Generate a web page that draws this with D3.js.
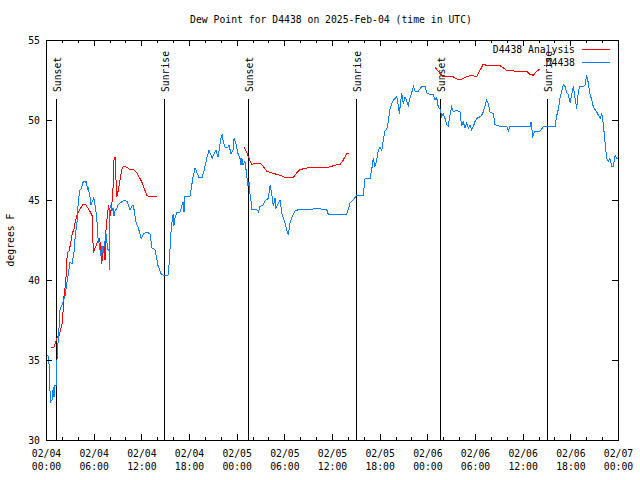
<!DOCTYPE html>
<html>
<head>
<meta charset="utf-8">
<script src="https://cdn.jsdelivr.net/npm/d3@7"></script>
<style>
  html, body { margin: 0; padding: 0; background: #fff; }
  svg { display: block; }
  text { font-family: "DejaVu Sans Mono", "Liberation Mono", monospace; font-size: 9.75px; fill: #000; }
</style>
</head>
<body>
<svg id="chart" width="640" height="480"></svg>
<script>
// ---- data (hours since 2025-02-04 00:00 UTC, dew point °F) ----
const dewHours = [0.13,0.29,0.42,0.50,0.59,0.76,0.92,1.01,1.13,1.26,
1.35,1.42,1.55,1.76,1.89,2.14,2.39,2.56,2.81,3.02,
3.27,3.52,3.71,3.90,3.97,4.09,4.22,4.41,4.66,4.78,
4.97,5.04,5.16,5.22,5.29,5.41,5.54,5.66,5.92,5.98,
6.17,6.29,6.42,6.55,6.67,6.80,6.92,7.05,7.18,7.36,
7.55,7.68,7.80,7.93,7.97,8.06,8.18,8.31,8.43,8.56,
8.69,8.94,9.06,9.32,9.57,9.94,10.20,10.57,10.95,11.08,
11.33,11.58,11.83,11.96,12.34,12.59,13.09,13.34,13.72,13.97,
14.10,14.47,14.73,15.36,15.52,15.70,15.86,15.99,16.11,16.24,
16.49,16.87,17.25,17.37,17.50,18.13,18.50,18.76,19.01,19.26,
19.64,19.89,20.27,20.52,20.77,20.90,21.15,21.40,21.65,21.78,
22.03,22.16,22.28,22.53,22.78,23.04,23.29,23.54,23.67,23.92,
24.17,24.42,24.55,24.67,24.80,25.05,25.18,25.30,25.43,25.56,
25.68,25.81,25.89,26.52,26.73,26.94,27.35,27.57,27.98,28.20,
28.41,28.61,28.83,28.91,29.04,29.24,29.46,29.67,29.87,30.09,
30.30,30.50,30.71,30.93,31.34,31.76,32.82,34.08,35.33,35.54,
37.85,38.05,38.27,38.68,39.11,39.94,40.16,40.79,41.00,41.20,
41.41,41.63,41.83,42.04,42.26,42.46,42.67,42.89,43.09,43.30,
43.52,43.72,44.15,44.35,44.47,44.78,44.98,45.19,45.61,45.82,
46.03,46.24,46.45,46.87,47.29,47.71,47.92,48.34,48.75,48.97,
49.18,49.38,49.60,49.81,50.01,50.22,50.43,50.63,50.85,51.06,
51.26,51.69,52.11,52.32,52.52,52.74,52.95,53.16,53.37,53.58,
53.79,54.00,54.21,54.63,54.84,55.04,55.47,55.67,55.89,56.31,
56.52,57.15,57.99,58.20,58.41,60.93,61.05,61.27,61.56,62.19,
62.61,64.08,64.30,64.50,64.71,64.92,65.12,65.33,65.55,65.75,
65.96,66.18,66.38,66.80,67.01,67.22,67.64,67.85,68.06,68.27,
68.48,68.70,68.90,69.33,69.74,69.96,70.16,70.37,70.58,70.78,
70.99,71.21,71.41,71.63,71.84,72.0];
const dewValues = [35.3,35.25,34.5,33.1,32.4,32.5,33.3,32.7,33.4,33.4,
34.4,35.6,36.25,38.1,38.3,38.6,39.0,39.6,40.4,41.1,
41.0,41.7,42.9,43.6,44.4,44.9,45.6,45.7,46.1,46.2,
46.1,46.2,45.9,45.6,45.8,45.5,45.2,44.7,45.0,45.2,
44.7,44.3,43.6,42.6,42.3,41.9,41.5,42.1,41.7,42.2,
42.9,42.3,41.9,41.9,40.6,44.6,44.7,44.3,44.5,44.0,
44.3,44.5,44.7,44.8,44.9,45.0,44.9,44.4,44.7,44.4,
43.6,43.3,42.9,42.6,42.9,43.0,42.9,42.0,41.9,41.25,
40.9,40.4,40.3,40.3,41.1,42.8,43.6,44.1,43.4,43.9,
44.25,44.25,44.9,44.25,45.25,45.25,46.4,47.0,46.7,46.4,
46.4,46.8,47.7,48.1,47.8,47.6,47.9,48.1,47.7,48.1,
48.85,49.1,48.75,48.3,48.25,48.4,47.9,48.1,48.85,48.5,
47.9,47.6,47.2,47.6,47.2,47.4,46.9,46.4,45.9,46.1,
45.4,44.9,44.4,44.4,44.27,44.6,44.7,44.94,45.1,45.9,
45.4,44.6,45.1,44.5,44.6,44.8,45.0,44.2,43.9,43.56,
43.1,42.8,43.56,43.9,44.3,44.4,44.4,44.46,44.4,44.1,
44.1,44.4,44.8,45.0,45.3,45.3,46.35,46.35,46.9,47.6,
47.1,47.5,48.1,48.3,48.1,48.75,49.3,49.4,49.9,50.7,
51.0,51.25,51.46,50.9,50.4,51.7,51.0,51.46,50.9,51.4,
51.7,52.1,51.8,51.8,52.1,52.1,51.7,51.6,51.6,51.25,
51.4,50.8,50.7,50.2,50.4,50.1,49.7,49.6,50.3,50.8,
50.5,50.6,50.5,49.6,49.9,49.5,49.8,49.5,49.7,49.4,
49.6,49.9,50.1,50.2,50.3,50.5,51.25,51.0,50.5,50.4,
49.7,49.6,49.6,49.3,49.6,49.6,49.9,49.0,49.3,49.3,
49.6,49.6,50.3,50.7,51.4,51.8,52.2,52.1,51.7,51.6,
51.1,51.6,52.1,50.7,51.8,52.1,52.1,52.2,52.8,52.3,
51.6,51.25,50.8,50.5,50.1,50.4,49.7,48.6,47.6,47.4,
47.6,47.1,47.1,47.8,47.6,47.6];

// analysis series: null marks a gap between runs
const analysisHours = [0.67,1.01,1.22,1.42,1.64,1.85,2.05,2.27,2.48,2.68,
2.90,3.11,3.31,3.52,3.74,3.94,4.37,4.70,5.00,5.41,
5.83,5.95,6.26,6.67,6.89,7.01,7.14,7.30,7.43,7.55,
7.72,7.89,8.06,8.27,8.47,8.56,8.69,8.81,8.90,9.10,
9.32,9.53,9.73,10.16,10.57,10.99,11.42,11.83,12.17,12.46,
12.68,12.88,13.31,13.94, null,
24.92,25.26,25.47,25.89,26.31,26.94,27.35,27.78,28.41,29.04,
29.67,30.09,31.13,31.56,31.97,32.82,35.54,36.59,37.01,37.42,
37.85,38.18, null,
48.97,49.60,49.97,50.44,51.27,51.90,52.32,52.95,53.58,54.21,
54.63,55.04,55.47,56.31,57.15,57.99,59.25,60.51,60.93,61.34,
61.77,62.19];
const analysisValues = [35.8,35.8,36.1,36.45,36.5,36.9,37.3,39.0,39.8,41.7,
41.8,42.3,42.9,43.2,43.75,44.1,44.5,44.75,44.7,44.4,
44.0,41.7,42.1,42.6,42.2,41.0,41.7,42.1,41.25,43.1,
44.0,44.7,44.0,44.6,46.0,47.5,47.7,46.25,45.2,45.6,
46.25,46.9,47.1,47.05,46.9,46.9,46.7,46.35,46.0,45.6,
45.3,45.25,45.2,45.2, null,
48.3,48.0,47.7,47.2,47.3,47.3,47.1,46.8,46.7,46.6,
46.5,46.4,46.4,46.7,46.9,47.0,47.05,47.2,47.2,47.5,
47.9,47.9, null,
53.3,52.9,52.7,52.7,52.7,52.5,52.55,52.7,52.8,52.7,
53.1,53.5,53.4,53.4,53.4,53.1,53.05,53.05,52.85,52.8,
53.05,53.2];

const sunEventHours = [1.26, 14.89, 25.45, 39.06, 49.63, 63.10];
const sunEventLabels = ["Sunset", "Sunrise", "Sunset", "Sunrise", "Sunset", "Sunrise"];

const yTickValues = [30, 35, 40, 45, 50, 55];
const seriesNames = ["D4438 Analysis", "D4438"];
const seriesColors = ["#ff0000", "#0a80ff"];
const titleText = "Dew Point for D4438 on 2025-Feb-04 (time in UTC)";
const yLabel = "degrees F";

// ---- layout ----
const W = 640, H = 480;
const m = { left: 46, right: 618, top: 40, bottom: 440 };
const t0 = Date.UTC(2025, 1, 4, 0, 0);
const toDate = h => new Date(t0 + h * 3600e3);

const x = d3.scaleUtc().domain([toDate(0), toDate(72)]).range([m.left, m.right]);
const y = d3.scaleLinear().domain([30, 55]).range([m.bottom, m.top]);

const svg = d3.select("#chart");
svg.append("rect").attr("width", W).attr("height", H).attr("fill", "#fff");

// data lines
const dew = dewHours.map((h, i) => ({ t: toDate(h), v: dewValues[i] }));
const ana = analysisHours.map((h, i) => ({ t: h == null ? null : toDate(h), v: analysisValues[i] }));
const line = d3.line().defined(d => d.t != null && d.v != null).x(d => x(d.t)).y(d => y(d.v));

// sun event lines
const sun = svg.append("g");
sunEventHours.forEach((h, i) => {
  const xp = Math.round(x(toDate(h))) + 0.5;
  sun.append("line").attr("x1", xp).attr("x2", xp).attr("y1", 99).attr("y2", m.bottom)
    .attr("stroke", "#000").attr("stroke-width", 1).attr("shape-rendering", "crispEdges");
  sun.append("text").attr("transform", `translate(${xp + 4.5},92) rotate(-90)`)
    .attr("text-anchor", "start").text(sunEventLabels[i]);
});

svg.append("path").datum(ana).attr("d", line).attr("fill", "none")
  .attr("stroke", seriesColors[0]).attr("stroke-width", 1).attr("shape-rendering", "crispEdges");
svg.append("path").datum(dew).attr("d", line).attr("fill", "none")
  .attr("stroke", seriesColors[1]).attr("stroke-width", 1).attr("shape-rendering", "crispEdges");

// frame
svg.append("rect").attr("x", m.left + 0.5).attr("y", m.top + 0.5)
  .attr("width", m.right - m.left).attr("height", m.bottom - m.top)
  .attr("fill", "none").attr("stroke", "#000").attr("shape-rendering", "crispEdges");

// axes
const majorX = d3.utcHour.every(6).range(toDate(0), toDate(72.01));
const minorX = d3.utcHour.every(2).range(toDate(0), toDate(72.01));
const fmtD = d3.utcFormat("%m/%d"), fmtT = d3.utcFormat("%H:%M");

function styleAxis(g) {
  g.select(".domain").remove();
  g.selectAll("line").attr("stroke", "#000").attr("shape-rendering", "crispEdges");
  g.selectAll("text").attr("font-family", null).attr("font-size", null);
}

const xb = svg.append("g").attr("transform", `translate(0,${m.bottom})`)
  .call(d3.axisBottom(x).tickValues(majorX).tickSize(-6).tickPadding(10).tickFormat(() => ""))
  .call(styleAxis);
xb.selectAll(".tick text").each(function(d) {
  const t = d3.select(this);
  t.append("tspan").attr("x", 0).text(fmtD(d));
  t.append("tspan").attr("x", 0).attr("dy", "1.35em").text(fmtT(d));
});
svg.append("g").attr("transform", `translate(0,${m.bottom})`)
  .call(d3.axisBottom(x).tickValues(minorX.filter(d => d.getUTCHours() % 6 !== 0)).tickSize(-3).tickFormat(() => ""))
  .call(styleAxis);
svg.append("g").attr("transform", `translate(0,${m.top})`)
  .call(d3.axisTop(x).tickValues(majorX).tickSize(-6).tickFormat(() => ""))
  .call(styleAxis);
svg.append("g").attr("transform", `translate(0,${m.top})`)
  .call(d3.axisTop(x).tickValues(minorX.filter(d => d.getUTCHours() % 6 !== 0)).tickSize(-3).tickFormat(() => ""))
  .call(styleAxis);

svg.append("g").attr("transform", `translate(${m.left},0)`)
  .call(d3.axisLeft(y).tickValues(yTickValues).tickSize(-6).tickPadding(6).tickFormat(d3.format("d")))
  .call(styleAxis);
svg.append("g").attr("transform", `translate(${m.right},0)`)
  .call(d3.axisRight(y).tickValues(yTickValues).tickSize(-6).tickFormat(() => ""))
  .call(styleAxis);

// title & axis label
svg.append("text").attr("x", 331).attr("y", 23).attr("text-anchor", "middle").text(titleText);
svg.append("text").attr("transform", "translate(14,240) rotate(-90)").attr("text-anchor", "middle").text(yLabel);

// legend
seriesNames.forEach((name, i) => {
  const ly = 49.5 + i * 13;
  svg.append("text").attr("x", 575).attr("y", ly + 3.5).attr("text-anchor", "end").text(name);
  svg.append("line").attr("x1", 582).attr("x2", 610).attr("y1", ly).attr("y2", ly)
    .attr("stroke", seriesColors[i]).attr("stroke-width", 1).attr("shape-rendering", "crispEdges");
});
</script>
</body>
</html>
